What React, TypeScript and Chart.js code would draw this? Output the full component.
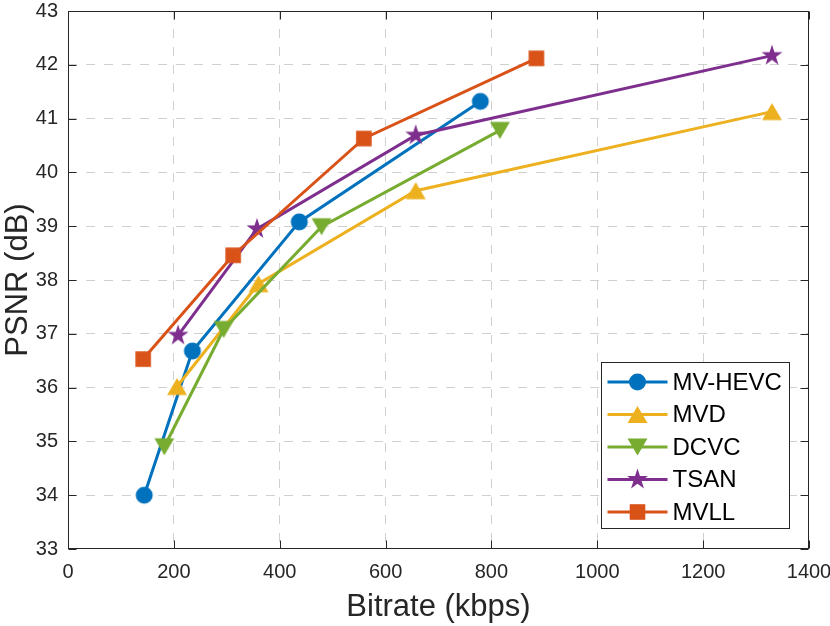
import { useEffect, useRef } from 'react';
import { Chart, registerables, type Plugin } from 'chart.js';

Chart.register(...registerables);

// bitrate (kbps) / PSNR (dB) per codec
const mvHevcRate = [144, 235, 437, 779];
const mvHevcPsnr = [34.0, 36.68, 39.08, 41.32];
const mvdRate = [206, 360, 657, 1330];
const mvdPsnr = [36.02, 37.93, 39.66, 41.13];
const dcvcRate = [182, 294, 479, 816];
const dcvcPsnr = [34.9, 37.08, 38.99, 40.78];
const tsanRate = [208, 357, 657, 1330];
const tsanPsnr = [36.97, 38.95, 40.69, 42.17];
const mvllRate = [142, 312, 559, 885];
const mvllPsnr = [36.53, 38.46, 40.63, 42.12];

const seriesNames = ['MV-HEVC', 'MVD', 'DCVC', 'TSAN', 'MVLL'];
const seriesColors = ['#0072BD', '#EDB120', '#77AC30', '#7E2F8E', '#D95319'];
const seriesMarkers = ['circle', 'up', 'down', 'star', 'square'];

const FONT = "'Liberation Sans', Arial, Helvetica, sans-serif";
const AXIS = '#262626';
const GRID = '#d0d0d0';

function drawMarker(ctx: CanvasRenderingContext2D, shape: string, x: number, y: number, color: string) {
  ctx.save();
  ctx.fillStyle = color;
  ctx.beginPath();
  if (shape === 'circle') {
    ctx.arc(x, y, 8.5, 0, Math.PI * 2);
  } else if (shape === 'up' || shape === 'down') {
    const w = 10, h = 17, s = shape === 'up' ? 1 : -1;
    ctx.moveTo(x, y - s * h / 2);
    ctx.lineTo(x - w, y + s * h / 2);
    ctx.lineTo(x + w, y + s * h / 2);
    ctx.closePath();
  } else if (shape === 'square') {
    ctx.rect(x - 7.8, y - 7.8, 15.6, 15.6);
  } else {
    const R = 11, r = R * 0.382;
    for (let i = 0; i < 10; i++) {
      const a = -Math.PI / 2 + (i * Math.PI) / 5;
      const rad = i % 2 ? r : R;
      const px = x + Math.cos(a) * rad, py = y + Math.sin(a) * rad;
      i ? ctx.lineTo(px, py) : ctx.moveTo(px, py);
    }
    ctx.closePath();
  }
  ctx.fill();
  ctx.restore();
}

function markerImage(shape: string, color: string) {
  const c = document.createElement('canvas');
  c.width = 28;
  c.height = 28;
  drawMarker(c.getContext('2d')!, shape, 14, 14, color);
  return c;
}

// MATLAB-style box with inward ticks on all four sides
const boxPlugin: Plugin = {
  id: 'box',
  beforeDatasetsDraw(chart) {
    const { ctx, chartArea: a, scales } = chart;
    ctx.save();
    ctx.strokeStyle = AXIS;
    ctx.lineWidth = 1;
    const L = Math.round(a.left) + 0.5, R = Math.round(a.right) - 0.5;
    const T = Math.round(a.top) + 0.5, B = Math.round(a.bottom) - 0.5;
    ctx.strokeRect(L, T, R - L, B - T);
    ctx.beginPath();
    for (const t of scales.x.ticks) {
      const px = Math.round(scales.x.getPixelForValue(t.value)) + 0.5;
      ctx.moveTo(px, B); ctx.lineTo(px, B - 8);
      ctx.moveTo(px, T); ctx.lineTo(px, T + 8);
    }
    for (const t of scales.y.ticks) {
      const py = Math.round(scales.y.getPixelForValue(t.value)) + 0.5;
      ctx.moveTo(L, py); ctx.lineTo(L + 8, py);
      ctx.moveTo(R, py); ctx.lineTo(R - 8, py);
    }
    ctx.stroke();
    ctx.restore();
  },
};

const legendPlugin: Plugin = {
  id: 'boxLegend',
  afterDraw(chart) {
    const { ctx, chartArea: a } = chart;
    const w = 188, h = 166;
    const x0 = Math.round(a.right - 20 - w) + 0.5, y0 = Math.round(a.bottom - 21 - h) + 0.5;
    ctx.save();
    ctx.fillStyle = '#fff';
    ctx.fillRect(x0, y0, w, h);
    ctx.strokeStyle = AXIS;
    ctx.lineWidth = 1;
    ctx.strokeRect(x0, y0, w, h);
    ctx.font = `24px ${FONT}`;
    ctx.textBaseline = 'middle';
    seriesNames.forEach((name, i) => {
      const cy = y0 + 19.5 + i * 32.5;
      ctx.strokeStyle = seriesColors[i];
      ctx.lineWidth = 3;
      ctx.beginPath();
      ctx.moveTo(x0 + 6, cy);
      ctx.lineTo(x0 + 66, cy);
      ctx.stroke();
      drawMarker(ctx, seriesMarkers[i], x0 + 36, cy, seriesColors[i]);
      ctx.fillStyle = '#000';
      ctx.fillText(name, x0 + 71, cy + 1);
    });
    ctx.restore();
  },
};

const edgeless = (lo: number, hi: number) => (c: any) =>
  c.tick && (c.tick.value === lo || c.tick.value === hi) ? 'rgba(0,0,0,0)' : GRID;

export default function App() {
  const canvasRef = useRef<HTMLCanvasElement>(null);

  useEffect(() => {
    document.body.style.margin = '0';
    if (!canvasRef.current) return;
    const rates = [mvHevcRate, mvdRate, dcvcRate, tsanRate, mvllRate];
    const psnrs = [mvHevcPsnr, mvdPsnr, dcvcPsnr, tsanPsnr, mvllPsnr];
    const chart = new Chart(canvasRef.current, {
      type: 'line',
      data: {
        datasets: seriesNames.map((name, i) => ({
          label: name,
          data: rates[i].map((r, k) => ({ x: r, y: psnrs[i][k] })),
          borderColor: seriesColors[i],
          backgroundColor: seriesColors[i],
          borderWidth: 3,
          pointStyle: markerImage(seriesMarkers[i], seriesColors[i]),
          pointRadius: 8,
          order: seriesNames.length - i,
          tension: 0,
        })),
      },
      options: {
        responsive: false,
        animation: false,
        layout: { padding: { top: 7, right: 21, left: 0, bottom: 0 } },
        plugins: { legend: { display: false }, tooltip: { enabled: false } },
        scales: {
          x: {
            type: 'linear',
            min: 0,
            max: 1400,
            afterFit: (s: any) => { s.height = 77; s.paddingLeft = 0; s.paddingRight = 0; },
            ticks: { stepSize: 200, color: AXIS, padding: 11, font: { family: FONT, size: 20 }, callback: (v: any) => String(v) },
            grid: { color: edgeless(0, 1400), drawTicks: false },
            border: { display: false, dash: [9, 9] },
            title: { display: true, text: 'Bitrate (kbps)', color: AXIS, padding: { top: 0, bottom: 0 }, font: { family: FONT, size: 31 } },
          },
          y: {
            type: 'linear',
            min: 33,
            max: 43,
            afterFit: (s: any) => { s.width = 68; s.paddingTop = 0; s.paddingBottom = 0; },
            ticks: { stepSize: 1, color: AXIS, padding: 10, font: { family: FONT, size: 20 } },
            grid: { color: edgeless(33, 43), drawTicks: false },
            border: { display: false, dash: [9, 9] },
            title: { display: true, text: 'PSNR (dB)', color: AXIS, padding: { top: 0, bottom: 0 }, font: { family: FONT, size: 31 } },
          },
        },
      },
      plugins: [boxPlugin, legendPlugin],
    });
    return () => chart.destroy();
  }, []);

  return <canvas ref={canvasRef} width={830} height={626} style={{ display: 'block' }}></canvas>;
}
